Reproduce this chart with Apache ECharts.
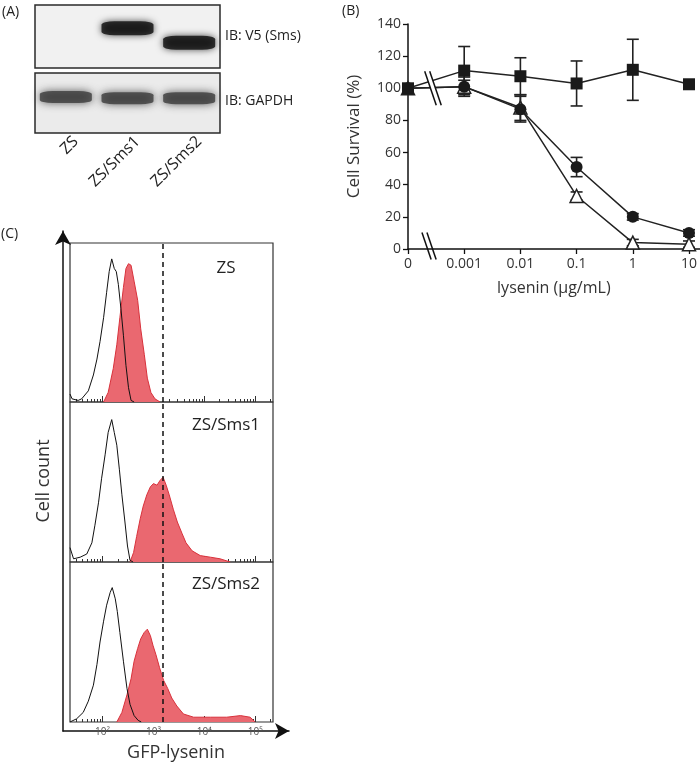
<!DOCTYPE html>
<html><head><meta charset="utf-8">
<script src="https://cdn.jsdelivr.net/npm/echarts@6/dist/echarts.min.js"></script>
<style>html,body{margin:0;padding:0;background:#fff}#c{width:700px;height:767px}</style>
</head><body><div id="c"></div>
<script>
// ---------- Panel A: western blot ----------
const blotLanes = ['ZS', 'ZS/Sms1', 'ZS/Sms2'];
const v5BandPos = [null, 0.63, 0.40];      // relative vertical band position (0 bottom, 1 top)
const gapdhBandPos = [0.60, 0.58, 0.58];

// ---------- Panel B: cell survival ----------
const doseLabels = ['0', '0.001', '0.01', '0.1', '1', '10'];
const survivalZS = [100, 111, 107.5, 103, 111.5, 102.5];
const errZS = [0, 15, 11.5, 14, 19, 2];
const survivalSms1 = [100, 101, 87, 51, 20, 10];
const errSms1 = [0, 4, 8, 6, 2, 2];
const survivalSms2 = [100, 101, 88, 33, 4, 3];
const errSms2 = [0, 6, 8, 2.5, 2, 2];

// ---------- Panel C: flow cytometry histograms (x = log10 GFP-lysenin, y = relative count) ----------
const flowLogTicks = [2, 3, 4, 5];
const flowTickLabels = ['10²', '10³', '10⁴', '10⁵'];
const flowThresholdLog = 3.19;
const zsCtrl = [[1.36,0.05],[1.40,0.02],[1.52,0.01],[1.59,0.02],[1.72,0.07],[1.82,0.17],[1.89,0.27],[1.95,0.38],[2.02,0.53],[2.08,0.69],[2.13,0.82],[2.18,0.90],[2.23,0.84],[2.27,0.82],[2.31,0.74],[2.36,0.59],[2.41,0.42],[2.46,0.23],[2.51,0.09],[2.56,0.01],[2.62,0]];
const zsLys = [[2.02,0],[2.11,0.06],[2.21,0.21],[2.28,0.36],[2.34,0.53],[2.41,0.72],[2.46,0.84],[2.51,0.87],[2.56,0.86],[2.62,0.76],[2.69,0.64],[2.75,0.46],[2.82,0.30],[2.88,0.15],[2.95,0.06],[3.03,0.02],[3.13,0]];
const sms1Ctrl = [[1.36,0.09],[1.43,0.02],[1.56,0.03],[1.69,0.05],[1.79,0.12],[1.85,0.23],[1.92,0.37],[1.98,0.52],[2.05,0.67],[2.11,0.81],[2.18,0.89],[2.23,0.81],[2.28,0.73],[2.33,0.58],[2.38,0.42],[2.44,0.25],[2.49,0.10],[2.54,0.01],[2.60,0]];
const sms1Lys = [[2.54,0],[2.61,0.06],[2.67,0.16],[2.74,0.27],[2.80,0.35],[2.87,0.42],[2.94,0.47],[3.00,0.49],[3.07,0.48],[3.13,0.51],[3.19,0.53],[3.25,0.48],[3.31,0.42],[3.39,0.33],[3.47,0.25],[3.56,0.18],[3.64,0.12],[3.76,0.07],[3.92,0.04],[4.12,0.03],[4.31,0.02],[4.51,0]];
const sms2Ctrl = [[1.36,0],[1.49,0.02],[1.62,0.06],[1.72,0.13],[1.82,0.23],[1.89,0.36],[1.95,0.50],[2.02,0.63],[2.08,0.73],[2.15,0.81],[2.19,0.84],[2.25,0.77],[2.29,0.69],[2.34,0.56],[2.41,0.38],[2.48,0.21],[2.54,0.11],[2.62,0.04],[2.70,0.01],[2.76,0]];
const sms2Lys = [[2.28,0],[2.38,0.06],[2.48,0.17],[2.56,0.27],[2.62,0.38],[2.69,0.46],[2.75,0.52],[2.82,0.56],[2.88,0.58],[2.94,0.54],[2.99,0.48],[3.05,0.42],[3.12,0.34],[3.20,0.26],[3.28,0.21],[3.36,0.15],[3.46,0.10],[3.59,0.05],[3.79,0.03],[4.12,0.03],[4.44,0.03],[4.71,0.04],[4.90,0.03],[5.00,0]];
const flowPanels = [
  {name: 'ZS', ctrl: zsCtrl, lys: zsLys},
  {name: 'ZS/Sms1', ctrl: sms1Ctrl, lys: sms1Lys},
  {name: 'ZS/Sms2', ctrl: sms2Ctrl, lys: sms2Lys}
];

const FONT = '"Open Sans", "Noto Sans", sans-serif';
const flowMin = 1.36, flowMax = 5.35;
const minorTicks = [];
for (let n = 1; n <= 5; n++) for (let k = 2; k <= 9; k++) {
  const v = n + Math.log10(k);
  if (v > flowMin && v < flowMax) minorTicks.push(v);
}

const chart = echarts.init(document.getElementById('c'), null, {renderer: 'canvas'});

const grids = [
  {left: 35, top: 5, width: 185, height: 63, show: true, backgroundColor: '#f1f1f1', borderColor: '#2a2a2a', borderWidth: 1.5},
  {left: 35, top: 73, width: 185, height: 60, show: true, backgroundColor: '#ebebeb', borderColor: '#2a2a2a', borderWidth: 1.5},
  {left: 408, top: 24, width: 292, height: 225},
  {left: 63, top: 231, width: 226, height: 512}
];
const flowTops = [243, 402, 562], flowHeights = [159, 160, 160];
flowTops.forEach((t, i) => grids.push({left: 70, top: t, width: 203, height: flowHeights[i], show: true, borderColor: '#333', borderWidth: 1.2}));
flowTops.forEach((t, i) => grids.push({left: 70, top: t, width: 203, height: flowHeights[i]}));
grids.push({left: 45, top: 73, width: 185, height: 60}); // lane-label grid (grid 10)

const xAxes = [
  {gridIndex: 0, type: 'category', data: blotLanes, show: false},
  {gridIndex: 1, type: 'category', data: blotLanes, show: false},
  {gridIndex: 2, type: 'value', min: 0, max: 5.19, interval: 1, splitLine: {show: false},
   axisLine: {lineStyle: {color: '#111', width: 1.5}}, axisTick: {length: 5, lineStyle: {color: '#111', width: 1.3}},
   axisLabel: {fontSize: 14, color: '#333', fontFamily: FONT, margin: 8, formatter: v => doseLabels[Math.round(v)] ?? ''},
   name: 'lysenin (μg/mL)', nameLocation: 'middle', nameGap: 31, nameTextStyle: {fontSize: 16, color: '#333', fontFamily: FONT}},
  {gridIndex: 3, type: 'value', min: 0, max: 1, splitLine: {show: false}, axisTick: {show: false}, axisLabel: {show: false},
   axisLine: {symbol: ['none', 'arrow'], symbolSize: [12, 14], lineStyle: {color: '#111', width: 1.5}},
   name: 'GFP-lysenin', nameLocation: 'middle', nameGap: 13, nameTextStyle: {fontSize: 18, color: '#333', fontFamily: FONT}}
];
for (let i = 0; i < 3; i++) {
  xAxes.push({gridIndex: 4 + i, type: 'value', min: flowMin, max: flowMax, splitLine: {show: false},
    axisLine: {show: false},
    axisTick: {inside: true, length: 6, customValues: flowLogTicks, lineStyle: {color: '#333', width: 1}},
    axisLabel: i === 2 ? {customValues: flowLogTicks, fontSize: 10, color: '#555', margin: 5, fontFamily: FONT,
      formatter: v => flowTickLabels[flowLogTicks.indexOf(Math.round(v))] || ''} : {show: false}});
}
for (let i = 0; i < 3; i++) {
  xAxes.push({gridIndex: 7 + i, type: 'value', min: flowMin, max: flowMax, splitLine: {show: false},
    axisLine: {show: false}, axisLabel: {show: false},
    axisTick: {inside: true, length: 3, customValues: minorTicks, lineStyle: {color: '#333', width: 1}}});
}
xAxes.push({gridIndex: 10, type: 'category', data: blotLanes, axisLine: {show: false}, axisTick: {show: false},
  axisLabel: {rotate: 45, margin: 6, fontSize: 16, color: '#222', fontFamily: FONT}});

const yAxes = [
  {gridIndex: 0, type: 'value', min: 0, max: 1, show: false},
  {gridIndex: 1, type: 'value', min: 0, max: 1, show: false},
  {gridIndex: 2, type: 'value', min: 0, max: 140, interval: 20, splitLine: {show: false},
   axisLine: {show: true, lineStyle: {color: '#111', width: 1.5}}, axisTick: {show: true, length: 5, lineStyle: {color: '#111', width: 1.3}},
   axisLabel: {fontSize: 14, color: '#333', fontFamily: FONT, margin: 7},
   name: 'Cell Survival (%)', nameLocation: 'middle', nameGap: 45, nameTextStyle: {fontSize: 17, color: '#333', fontFamily: FONT}},
  {gridIndex: 3, type: 'value', min: 0, max: 1, splitLine: {show: false}, axisTick: {show: false}, axisLabel: {show: false},
   axisLine: {show: true, symbol: ['none', 'arrow'], symbolSize: [12, 14], lineStyle: {color: '#111', width: 1.5}},
   name: 'Cell count', nameLocation: 'middle', nameGap: 10, nameTextStyle: {fontSize: 18, color: '#333', fontFamily: FONT}}
];
for (let i = 0; i < 7; i++) yAxes.push({gridIndex: 4 + i, type: 'value', min: 0, max: 1, show: false});

const series = [];
// blot bands
series.push({type: 'scatter', xAxisIndex: 0, yAxisIndex: 0, symbol: 'roundRect', symbolSize: [52, 14],
  itemStyle: {color: '#0d0d0d', shadowBlur: 7, shadowColor: 'rgba(0,0,0,0.85)'}, silent: true,
  data: v5BandPos.map((p, i) => p == null ? null : [i, p]).filter(d => d)});
series.push({type: 'scatter', xAxisIndex: 1, yAxisIndex: 1, symbol: 'roundRect', symbolSize: [52, 12],
  itemStyle: {color: '#3c3c3c', shadowBlur: 8, shadowColor: 'rgba(40,40,40,0.9)'}, silent: true,
  data: gapdhBandPos.map((p, i) => [i, p])});

// survival error bars
function errSeries(vals, errs) {
  return {type: 'custom', xAxisIndex: 2, yAxisIndex: 2, z: 2, silent: true,
    data: vals.map((v, i) => [i, v - errs[i], v + errs[i]]).filter((d, i) => errs[i] > 0),
    renderItem: (params, api) => {
      const x = api.value(0), lo = api.coord([x, api.value(1)]), hi = api.coord([x, api.value(2)]);
      const hw = 6, st = {stroke: '#222', lineWidth: 1.6};
      return {type: 'group', children: [
        {type: 'line', shape: {x1: lo[0], y1: lo[1], x2: hi[0], y2: hi[1]}, style: st},
        {type: 'line', shape: {x1: lo[0] - hw, y1: lo[1], x2: lo[0] + hw, y2: lo[1]}, style: st},
        {type: 'line', shape: {x1: hi[0] - hw, y1: hi[1], x2: hi[0] + hw, y2: hi[1]}, style: st}
      ]};
    }};
}
series.push(errSeries(survivalZS, errZS), errSeries(survivalSms1, errSms1), errSeries(survivalSms2, errSms2));
series.push({name: 'ZS/Sms2', type: 'line', xAxisIndex: 2, yAxisIndex: 2, z: 3, symbol: 'triangle', symbolSize: 13,
  lineStyle: {color: '#222', width: 1.5}, itemStyle: {color: '#fff', borderColor: '#222', borderWidth: 1.5},
  data: survivalSms2.map((v, i) => [i, v])});
series.push({name: 'ZS/Sms1', type: 'line', xAxisIndex: 2, yAxisIndex: 2, z: 4, symbol: 'circle', symbolSize: 12,
  lineStyle: {color: '#222', width: 1.5}, itemStyle: {color: '#1a1a1a'},
  data: survivalSms1.map((v, i) => [i, v])});
series.push({name: 'ZS', type: 'line', xAxisIndex: 2, yAxisIndex: 2, z: 5, symbol: 'rect', symbolSize: 12,
  lineStyle: {color: '#222', width: 1.5}, itemStyle: {color: '#1a1a1a'},
  data: survivalZS.map((v, i) => [i, v])});

// flow histograms
flowPanels.forEach((p, i) => {
  series.push({type: 'line', xAxisIndex: 4 + i, yAxisIndex: 4 + i, showSymbol: false, silent: true, z: 2,
    lineStyle: {color: '#d8323c', width: 1}, areaStyle: {color: '#ea6870', opacity: 1}, data: p.lys,
    markLine: {silent: true, symbol: 'none', label: {show: false},
      lineStyle: {color: '#111', type: [5, 4], width: 1.5}, data: [{xAxis: flowThresholdLog}]}});
  series.push({type: 'line', xAxisIndex: 4 + i, yAxisIndex: 4 + i, showSymbol: false, silent: true, z: 3,
    lineStyle: {color: '#111', width: 1}, data: p.ctrl});
});

const texts = [
  {t: '(A)', x: 2, y: 12, s: 14, a: 'left'},
  {t: '(B)', x: 342, y: 11, s: 14, a: 'left'},
  {t: '(C)', x: 1, y: 234, s: 14, a: 'left'},
  {t: 'IB: V5 (Sms)', x: 225, y: 36, s: 14, a: 'left'},
  {t: 'IB: GAPDH', x: 225, y: 101, s: 14, a: 'left'},
  {t: 'ZS', x: 226, y: 268, s: 17, a: 'center'},
  {t: 'ZS/Sms1', x: 226, y: 425, s: 17, a: 'center'},
  {t: 'ZS/Sms2', x: 226, y: 584, s: 17, a: 'center'}
];
function textEls() {
  return texts.map(o => ({type: 'text', x: o.x, y: o.y, z: 10, silent: true,
    style: {text: o.t, fontSize: o.s, fontFamily: FONT, fill: '#222', align: o.a, verticalAlign: 'middle'}}));
}

chart.setOption({animation: false, grid: grids, xAxis: xAxes, yAxis: yAxes, series: series, graphic: textEls()});

// axis break marks on panel B
const c1 = chart.convertToPixel({gridIndex: 2}, [0.4, 100]);
const c2 = chart.convertToPixel({gridIndex: 2}, [0.33, 0]);
function breakMark(cx, cy, h, fillGap) {
  const dx = h * 0.34, g = 5;
  const els = [];
  if (fillGap) els.push({type: 'polygon', z: 20, silent: true,
    shape: {points: [[cx - dx, cy - h], [cx - dx + g, cy - h], [cx + dx + g, cy + h], [cx + dx, cy + h]]}, style: {fill: '#fff'}});
  els.push({type: 'line', z: 21, silent: true, shape: {x1: cx - dx, y1: cy - h, x2: cx + dx, y2: cy + h}, style: {stroke: '#111', lineWidth: 1.5}});
  els.push({type: 'line', z: 21, silent: true, shape: {x1: cx - dx + g, y1: cy - h, x2: cx + dx + g, y2: cy + h}, style: {stroke: '#111', lineWidth: 1.5}});
  return els;
}
chart.setOption({graphic: textEls().concat(breakMark(c1[0], c1[1], 17, true), breakMark(c2[0], c2[1] - 3, 13.5, false))});
</script></body></html>
